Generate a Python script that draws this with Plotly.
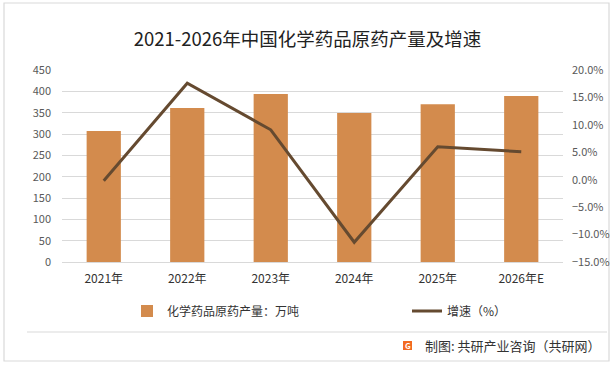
import plotly.graph_objects as go

years = ["2021年", "2022年", "2023年", "2024年", "2025年", "2026年E"]
output = [307, 361, 394, 349, 370, 389]          # 万吨
growth = [-0.2, 17.6, 9.1, -11.4, 6.0, 5.1]      # %

bar_name = "化学药品原药产量：万吨"
line_name = "增速（%）"
title_text = "2021-2026年中国化学药品原药产量及增速"
source_text = "制图: 共研产业咨询（共研网）"

BAR_COLOR = "#D38B4D"
LINE_COLOR = "#654A30"
FONT = "Microsoft YaHei, Noto Sans CJK SC, sans-serif"

PW, PH = 501, 192  # plot area size in px
def px(x):
    return (x - 62) / PW
def py(y):
    return (262 - y) / PH

fig = go.Figure()
fig.add_trace(go.Bar(x=years, y=output, name=bar_name, marker_color=BAR_COLOR,
                     marker_line_width=0, yaxis="y", legend="legend"))
fig.add_trace(go.Scatter(x=years, y=[g / 100 for g in growth], name=line_name, mode="lines",
                         line=dict(color=LINE_COLOR, width=3), yaxis="y2", legend="legend2"))

legend_common = dict(orientation="h", yanchor="middle", xanchor="left",
                     font=dict(size=12, color="#333333"), bgcolor="rgba(0,0,0,0)",
                     borderwidth=0)

fig.update_layout(
    width=615, height=367,
    margin=dict(l=62, r=52, t=70, b=105, autoexpand=False),
    paper_bgcolor="white", plot_bgcolor="white",
    font=dict(family=FONT, color="#595959", size=11),
    bargap=0.59,
    showlegend=True,
    title=dict(text=title_text, x=px(312.5), xanchor="center", y=1 - 40 / 367, yanchor="middle",
               font=dict(size=18.5, color="#222222", family=FONT)),
    xaxis=dict(showgrid=False, showline=True, linecolor="#D9D9D9", linewidth=1,
               ticks="", tickfont=dict(size=12, color="#333333"), ticklabelstandoff=6),
    yaxis=dict(range=[0, 450], dtick=50, showgrid=True, gridcolor="#D9D9D9", gridwidth=1,
               zeroline=False, ticks="", ticklabelstandoff=10,
               tickfont=dict(size=11, color="#595959")),
    yaxis2=dict(range=[-0.15, 0.20], dtick=0.05, tickformat=".1%", overlaying="y", side="right",
                showgrid=False, zeroline=False, ticks="", ticklabelstandoff=8,
                tickfont=dict(size=11, color="#595959")),
    legend=dict(x=px(127), y=py(311), **legend_common),
    legend2=dict(x=px(407), y=py(311), **legend_common),
)

# outer frame and footer separator
fig.add_shape(type="rect", xref="paper", yref="paper", x0=px(4), x1=px(609),
              y0=py(361), y1=py(3), line=dict(color="#D9D9D9", width=1.2),
              fillcolor="rgba(0,0,0,0)", layer="below")
fig.add_shape(type="line", xref="paper", yref="paper", x0=px(27), x1=px(607),
              y0=py(332), y1=py(332), line=dict(color="#D9D9D9", width=1))
# logo
fig.add_shape(type="rect", xref="paper", yref="paper", x0=px(403), x1=px(412),
              y0=py(350), y1=py(341), line=dict(width=0), fillcolor="#F26A21")
fig.add_annotation(text="<b>G</b>", xref="paper", yref="paper", x=px(407.5),
                   y=py(345.5), showarrow=False, font=dict(size=8, color="white"),
                   xanchor="center", yanchor="middle")
fig.add_annotation(text=source_text, xref="paper", yref="paper", x=px(603),
                   y=py(345), showarrow=False, xanchor="right", yanchor="middle",
                   font=dict(size=13, color="#333333", family=FONT))

fig.write_html("out.html", config={"displayModeBar": False},
               post_script="document.body.style.margin='0px';")
